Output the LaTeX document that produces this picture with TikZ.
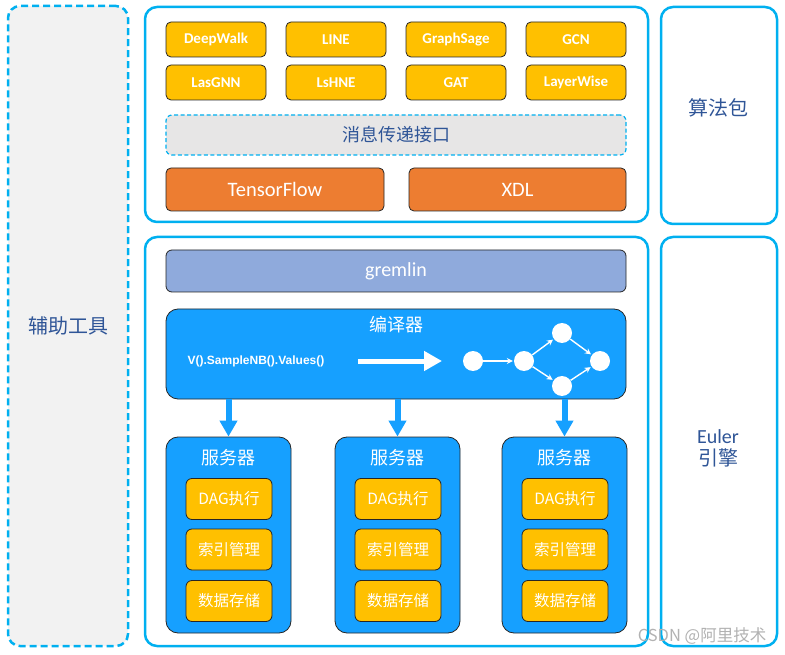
\documentclass[tikz,border=0pt]{standalone}
\usepackage{fontspec}
\usepackage{xcolor}
\setmainfont{Carlito}
\newfontfamily\cjk{Noto Sans CJK SC}
\newfontfamily\codefont{Liberation Sans}
\definecolor{eulcyan}{RGB}{0, 176, 240}
\definecolor{eulyellow}{RGB}{255, 192, 0}
\definecolor{eulorange}{RGB}{237, 125, 49}
\definecolor{eulgremlin}{RGB}{143, 170, 220}
\definecolor{eulblue}{RGB}{22, 160, 255}
\definecolor{eulnavy}{RGB}{47, 85, 151}
\definecolor{eulink}{RGB}{38, 38, 38}
\definecolor{eulgray}{RGB}{242, 242, 242}
\definecolor{eulmsg}{RGB}{231, 230, 230}
\usetikzlibrary{arrows.meta, positioning}

\tikzset{
    panel/.style={draw=eulcyan, line width=2.5pt, rounded corners=12pt, fill=white},
    tagtext/.style={text=eulnavy, font=\cjk\fontsize{20}{24}\selectfont, align=center},
    toolbox/.style={panel, dashed, dash pattern=on 7pt off 4pt, fill=eulgray},
    algbox/.style={draw=eulink, line width=0.8pt, fill=eulyellow, rounded corners=5pt,
        text=white, font=\bfseries\fontsize{15}{17}\selectfont, minimum width=100pt, minimum height=35pt},
    fwbox/.style={draw=eulink, line width=0.8pt, fill=eulorange, rounded corners=5pt,
        text=white, font=\fontsize{20.5}{22}\selectfont, minimum height=43pt},
    srvbox/.style={draw=eulink, line width=0.8pt, fill=eulblue, rounded corners=12pt,
        minimum width=125pt, minimum height=196pt},
    srvtitle/.style={text=white, font=\cjk\fontsize{18}{20}\selectfont},
    unitbox/.style={draw=eulink, line width=0.8pt, fill=eulyellow, rounded corners=6pt,
        text=white, font=\cjk\fontsize{15.5}{18}\selectfont, minimum width=86pt, minimum height=41pt},
    dagnode/.style={circle, fill=white, minimum size=20pt, inner sep=0pt},
    dagedge/.style={white, line width=1.4pt, -{Stealth[length=6pt, width=6pt]}, shorten >=1pt},
    downarrow/.style={eulblue, line width=6pt, -{Triangle[length=16pt, width=17pt]}}
}

\begin{document}
\begin{tikzpicture}[x=1pt, y=-1pt]
\useasboundingbox (0,0) rectangle (785,655);

% === Paneles ===
\node[toolbox, minimum width=120pt, minimum height=640pt, tagtext] (tools) at (68,326) {辅助工具};
\node[panel, minimum width=503pt, minimum height=215pt] (algpanel) at (396.5,114.5) {};
\node[panel, minimum width=116pt, minimum height=217pt] (algtag) at (719,115.5) {};
\node[tagtext] (algtagtext) at (718,108) {算法包};
\node[panel, minimum width=503pt, minimum height=409pt] (engpanel) at (396.5,441.5) {};
\node[panel, minimum width=116pt, minimum height=409pt] (engtag) at (719,441.5) {};
\node[tagtext] (engtagtext) at (718,448) {{\fontspec{Carlito}Euler}\\[-2pt]引擎};

% === Algoritmos ===
\node[algbox] (deepwalk) at (216,39.5) {DeepWalk};
\node[algbox] (line) at (336,39.5) {LINE};
\node[algbox] (graphsage) at (456,39.5) {GraphSage};
\node[algbox] (gcn) at (576,39.5) {GCN};
\node[algbox] (lasgnn) at (216,82.5) {LasGNN};
\node[algbox] (lshne) at (336,82.5) {LsHNE};
\node[algbox] (gat) at (456,82.5) {GAT};
\node[algbox] (layerwise) at (576,82.5) {LayerWise};

% Interfaz de mensajes
\node[draw=eulcyan, line width=1.2pt, dashed, dash pattern=on 4pt off 2.5pt, fill=eulmsg,
    rounded corners=6pt, minimum width=460pt, minimum height=40pt,
    text=eulnavy, font=\cjk\fontsize{18}{20}\selectfont] (msg) at (396,135) {消息传递接口};

% Frameworks
\node[fwbox, minimum width=218pt] (tensorflow) at (275,189.5) {TensorFlow};
\node[fwbox, minimum width=217pt] (xdl) at (517.5,189.5) {XDL};

% === Motor ===
\node[draw=eulink, line width=0.8pt, fill=eulgremlin, rounded corners=6pt,
    minimum width=460pt, minimum height=42pt, text=white,
    font=\fontsize{20}{22}\selectfont] (gremlin) at (396,271) {gremlin};

% Compilador
\node[draw=eulink, line width=0.8pt, fill=eulblue, rounded corners=12pt,
    minimum width=460pt, minimum height=90pt] (compiler) at (396,354) {};
\node[text=white, font=\cjk\fontsize{18}{20}\selectfont] (comptitle) at (396,325) {编译器};
\node[text=white, font=\codefont\bfseries\fontsize{12}{14}\selectfont] (query) at (256,361)
    {V().SampleNB().Values()};
\coordinate (fa) at (358,361);
\coordinate (fb) at (442,361);
\draw[white, line width=5pt, -{Triangle[length=18pt, width=19pt]}] (fa) -- (fb);

% Grafo DAG
\node[dagnode] (n1) at (473,361) {};
\node[dagnode] (n2) at (524,361) {};
\node[dagnode] (n3) at (562,333) {};
\node[dagnode] (n4) at (600,361) {};
\node[dagnode] (n5) at (562,386) {};
\draw[dagedge] (n1) -- (n2);
\draw[dagedge] (n2) -- (n3);
\draw[dagedge] (n2) -- (n5);
\draw[dagedge] (n3) -- (n4);
\draw[dagedge] (n5) -- (n4);

% === Servidores ===
\node[srvbox] (srvA) at (228.5,535) {};
\node[srvbox] (srvB) at (397.5,535) {};
\node[srvbox] (srvC) at (564.5,535) {};

\node[srvtitle] (titleA) at (228.5,458) {服务器};
\node[srvtitle] (titleB) at (397.5,458) {服务器};
\node[srvtitle] (titleC) at (564.5,458) {服务器};

\node[unitbox] (dagA) at (229,499) {DAG执行};
\node[unitbox] (idxA) at (229,549.5) {索引管理};
\node[unitbox] (stoA) at (229,601) {数据存储};
\node[unitbox] (dagB) at (398,499) {DAG执行};
\node[unitbox] (idxB) at (398,549.5) {索引管理};
\node[unitbox] (stoB) at (398,601) {数据存储};
\node[unitbox] (dagC) at (565,499) {DAG执行};
\node[unitbox] (idxC) at (565,549.5) {索引管理};
\node[unitbox] (stoC) at (565,601) {数据存储};

% Flechas compilador -> servidores
\draw[downarrow] (compiler.south -| srvA.north) -- (srvA.north);
\draw[downarrow] (compiler.south -| srvB.north) -- (srvB.north);
\draw[downarrow] (compiler.south -| srvC.north) -- (srvC.north);

% Marca de agua
\node[text=gray!60, font=\cjk\fontsize{16.5}{18}\selectfont] (mark) at (702,636) {CSDN @阿里技术};

\end{tikzpicture}
\end{document}
